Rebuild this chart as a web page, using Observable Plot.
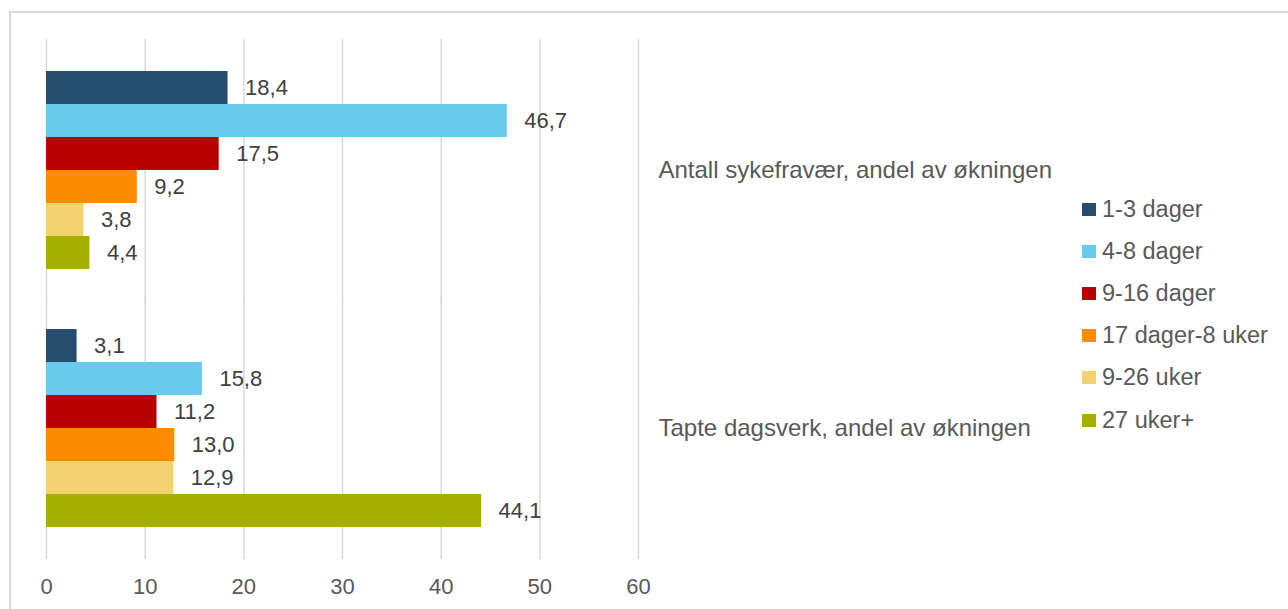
<!DOCTYPE html>
<html>
<head>
<meta charset="utf-8">
<script src="https://cdn.jsdelivr.net/npm/d3@7"></script>
<script src="https://cdn.jsdelivr.net/npm/@observablehq/plot@0.6"></script>
<style>
  html, body { margin: 0; padding: 0; background: #fff; }
  #wrap { position: relative; width: 1288px; height: 609px; overflow: hidden; font-family: "Liberation Sans", Arial, sans-serif; }
  #border { position: absolute; left: 9px; top: 11px; width: 1400px; height: 700px; border-top: 2px solid #d9d9d9; border-left: 2px solid #d9d9d9; }
  #chart { position: absolute; left: 0; top: 0; }
  #legend { position: absolute; left: 1082px; top: 188px; }
  .item { display: flex; align-items: center; height: 42.2px; font-size: 23.5px; color: #595959; white-space: nowrap; }
  .sw { width: 14px; height: 13px; margin-right: 6px; flex: none; }
</style>
</head>
<body>
<div id="wrap">
  <div id="border"></div>
  <div id="chart"></div>
  <div id="legend"></div>
</div>
<script>
const categories = ["Antall sykefravær, andel av økningen", "Tapte dagsverk, andel av økningen"];
const series = ["1-3 dager", "4-8 dager", "9-16 dager", "17 dager-8 uker", "9-26 uker", "27 uker+"];
const antallValues = [18.4, 46.7, 17.5, 9.2, 3.8, 4.4];
const tapteValues = [3.1, 15.8, 11.2, 13.0, 12.9, 44.1];
const colors = ["#264d6e", "#66cbec", "#b90000", "#ff8c00", "#f2d16f", "#a5af00"];
const xTicks = [0, 10, 20, 30, 40, 50, 60];

const valuesByCategory = [antallValues, tapteValues];
const data = [];
categories.forEach((c, i) => series.forEach((s, j) => data.push({category: c, series: s, value: valuesByCategory[i][j]})));

const fmt = v => v.toFixed(1).replace(".", ",");

const chart = Plot.plot({
  width: 1288,
  height: 609,
  marginLeft: 46,
  marginRight: 650,
  marginTop: 40,
  marginBottom: 51,
  style: {fontFamily: "'Liberation Sans', Arial, sans-serif", fontSize: "22px", background: "transparent", overflow: "visible"},
  x: {domain: [0, 60], axis: null},
  y: {domain: series, padding: 0, axis: null},
  fy: {domain: categories, paddingInner: 0.225, paddingOuter: 0.116, label: null},
  color: {domain: series, range: colors},
  marks: [
    Plot.ruleX(xTicks, {stroke: "#d9d9d9", strokeWidth: 1.5, insetTop: -31, insetBottom: -31}),
    Plot.barX(data, {x: "value", y: "series", fy: "category", fill: "series"}),
    Plot.text(data, {x: "value", y: "series", fy: "category", text: d => fmt(d.value), textAnchor: "start", dx: 17, fill: "#404040", fontSize: 22}),
    Plot.axisX(xTicks, {anchor: "bottom", tickSize: 0, tickPadding: 50, fill: "#595959", fontSize: 22, label: null}),
    Plot.axisFy({anchor: "right", tickSize: 0, tickPadding: 20, label: null, fill: "#595959", fontSize: 24, textAnchor: "start"})
  ]
});
document.getElementById("chart").appendChild(chart);

const legend = document.getElementById("legend");
series.forEach((s, i) => {
  const item = document.createElement("div");
  item.className = "item";
  const sw = document.createElement("span");
  sw.className = "sw";
  sw.style.background = colors[i];
  const label = document.createElement("span");
  label.textContent = s;
  item.appendChild(sw);
  item.appendChild(label);
  legend.appendChild(item);
});
</script>
</body>
</html>
